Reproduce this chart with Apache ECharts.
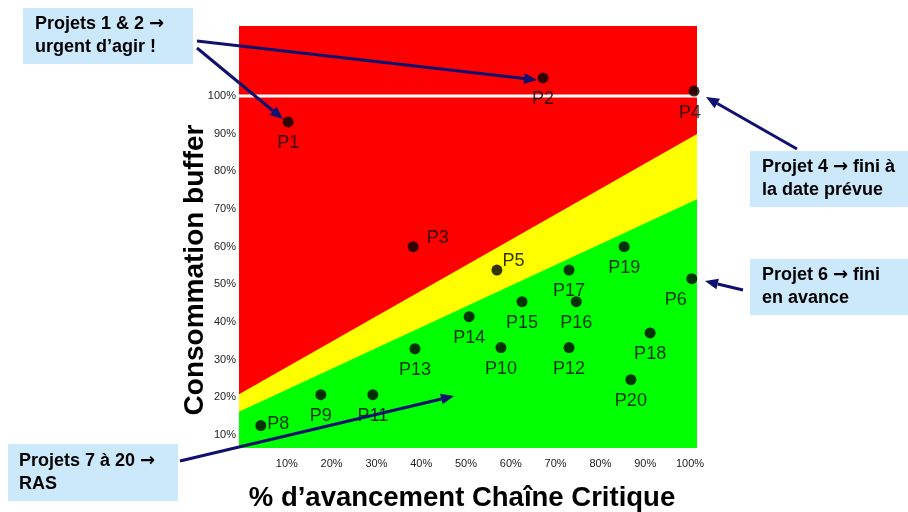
<!DOCTYPE html>
<html lang="fr" style="height: 100%">

<head>
  <meta charset="UTF-8" />
  <title>Consommation buffer</title>
  <script src="https://cdn.jsdelivr.net/npm/echarts@6/dist/echarts.min.js"></script>
</head>

<body style="height: 100%; margin: 0; background: #fff">
  <div id="main" style="width: 908px; height: 512px"></div>
  <script type="text/javascript">
    // projets : % d'avancement chaîne critique / consommation buffer
    var projects = ['P1', 'P2', 'P3', 'P4', 'P5', 'P6', 'P8', 'P9', 'P10', 'P11', 'P12', 'P13', 'P14', 'P15', 'P16', 'P17', 'P18', 'P19', 'P20'];
    var progress = [0.103, 0.672, 0.382, 1.009, 0.569, 1.004, 0.042, 0.176, 0.578, 0.292, 0.730, 0.386, 0.507, 0.625, 0.746, 0.730, 0.911, 0.853, 0.868];
    var buffer = [0.931, 1.048, 0.600, 1.013, 0.538, 0.515, 0.125, 0.207, 0.332, 0.207, 0.332, 0.329, 0.414, 0.454, 0.454, 0.538, 0.371, 0.600, 0.247];

    // limites des zones (valeurs aux bords gauche / droit du graphe)
    var redYellowLimit = [0.208, 0.899];
    var yellowGreenLimit = [0.162, 0.726];

    var tickValues = [0.1, 0.2, 0.3, 0.4, 0.5, 0.6, 0.7, 0.8, 0.9, 1.0];

    var xMin = -0.0067, xMax = 1.0156;
    var yMin = 0.0655, yMax = 1.1858;

    var font = 'Liberation Sans, Arial, sans-serif';
    var navy = '#10106e';

    // positions particulières des étiquettes
    var labelTweaks = {
      P3: { position: 'right', distance: 8, offset: [0, -9] },
      P5: { position: 'right', distance: 0, offset: [0, -9] },
      P8: { position: 'right', distance: 1, offset: [0, -2] },
      P4: { position: 'bottom', distance: 7, offset: [-4, 0] },
      P6: { position: 'bottom', distance: 7, offset: [-16, 0] }
    };

    var points = projects.map(function (name, i) {
      var item = { name: name, value: [progress[i], buffer[i]] };
      if (labelTweaks[name]) item.label = labelTweaks[name];
      return item;
    });

    function arrow(x1, y1, x2, y2) {
      var a = Math.atan2(y2 - y1, x2 - x1);
      var L = 13, W = 5.5;
      var bx = x2 - L * Math.cos(a), by = y2 - L * Math.sin(a);
      return [
        {
          type: 'line', z: 100,
          shape: { x1: x1, y1: y1, x2: bx, y2: by },
          style: { stroke: navy, lineWidth: 3 }
        },
        {
          type: 'polygon', z: 100,
          shape: { points: [[x2, y2], [bx + W * Math.sin(a), by - W * Math.cos(a)], [bx - W * Math.sin(a), by + W * Math.cos(a)]] },
          style: { fill: navy }
        }
      ];
    }

    function note(x, y, w, h, tx, txt) {
      return [
        {
          type: 'rect', z: 90,
          shape: { x: x, y: y, width: w, height: h },
          style: { fill: '#cce9fc' }
        },
        {
          type: 'text', z: 91, x: tx, y: y + h / 2,
          style: {
            text: txt, fill: '#000', font: 'bold 18px ' + font,
            lineHeight: 23, verticalAlign: 'middle', align: 'left',
            rich: {
              a: { fontFamily: 'DejaVu Sans', fontWeight: 'bold', fontSize: 18, lineHeight: 23, fill: '#000' }
            }
          }
        }
      ];
    }

    var graphics = [].concat(
      note(23, 8, 170, 56, 35, 'Projets 1 & 2 {a|\u2192}\nurgent d\u2019agir !'),
      note(750, 151, 158, 56, 762, 'Projet 4 {a|\u2192} fini à\nla date prévue'),
      note(750, 259, 158, 56, 762, 'Projet 6 {a|\u2192} fini\nen avance'),
      note(8, 444, 170, 57, 19, 'Projets 7 à 20 {a|\u2192}\nRAS'),
      arrow(197, 41, 537, 80),
      arrow(197, 48, 283, 119),
      arrow(797, 149, 706, 97),
      arrow(743, 290, 705, 281),
      arrow(180, 461, 454, 396)
    );

    var myChart = echarts.init(document.getElementById('main'));

    var option = {
      animation: false,
      grid: {
        left: 239, right: 211, top: 26, bottom: 64,
        outerBoundsMode: 'none', containLabel: false,
        show: true, backgroundColor: '#ff0000', borderWidth: 0
      },
      xAxis: {
        type: 'value', min: xMin, max: xMax,
        name: '% d\u2019avancement Chaîne Critique',
        nameLocation: 'middle', nameGap: 36, nameMoveOverlap: false,
        nameTextStyle: { fontSize: 27.5, fontWeight: 'bold', color: '#000', fontFamily: font, padding: [0, 12, 0, 0] },
        axisLine: { show: false }, axisTick: { show: false }, splitLine: { show: false },
        axisLabel: {
          customValues: tickValues, margin: 10, fontSize: 11, color: '#222', fontFamily: font,
          formatter: function (v) { return Math.round(v * 100) + '%'; }
        }
      },
      yAxis: {
        type: 'value', min: yMin, max: yMax,
        name: 'Consommation buffer',
        nameLocation: 'middle', nameGap: 30, nameRotate: 90, nameMoveOverlap: false,
        nameTextStyle: { fontSize: 28, fontWeight: 'bold', color: '#000', fontFamily: font, padding: [0, 66, 0, 0] },
        axisLine: { show: false }, axisTick: { show: false }, splitLine: { show: false },
        axisLabel: {
          customValues: tickValues, margin: 3, fontSize: 11, color: '#222', fontFamily: font,
          formatter: function (v) { return Math.round(v * 100) + '%'; }
        }
      },
      series: [
        {
          type: 'line', symbol: 'none', silent: true, z: 1,
          data: [[xMin, redYellowLimit[0]], [xMax, redYellowLimit[1]]],
          lineStyle: { width: 0 },
          areaStyle: { color: '#ffff00', opacity: 1, origin: 'start' }
        },
        {
          type: 'line', symbol: 'none', silent: true, z: 1,
          data: [[xMin, yellowGreenLimit[0]], [xMax, yellowGreenLimit[1]]],
          lineStyle: { width: 0 },
          areaStyle: { color: '#00ff00', opacity: 1, origin: 'start' }
        },
        {
          type: 'line', symbol: 'none', silent: true, z: 2,
          data: [[xMin, 1.0], [xMax, 1.0]],
          lineStyle: { width: 3, color: '#ffffff' }
        },
        {
          type: 'scatter', symbolSize: 11, z: 10,
          itemStyle: { color: '#000' },
          label: {
            show: true, position: 'bottom', distance: 7,
            formatter: '{b}', fontSize: 18, color: '#000', fontFamily: font
          },
          data: points
        }
      ],
      graphic: graphics
    };

    myChart.setOption(option);
    window.addEventListener('resize', myChart.resize);
  </script>
</body>

</html>
